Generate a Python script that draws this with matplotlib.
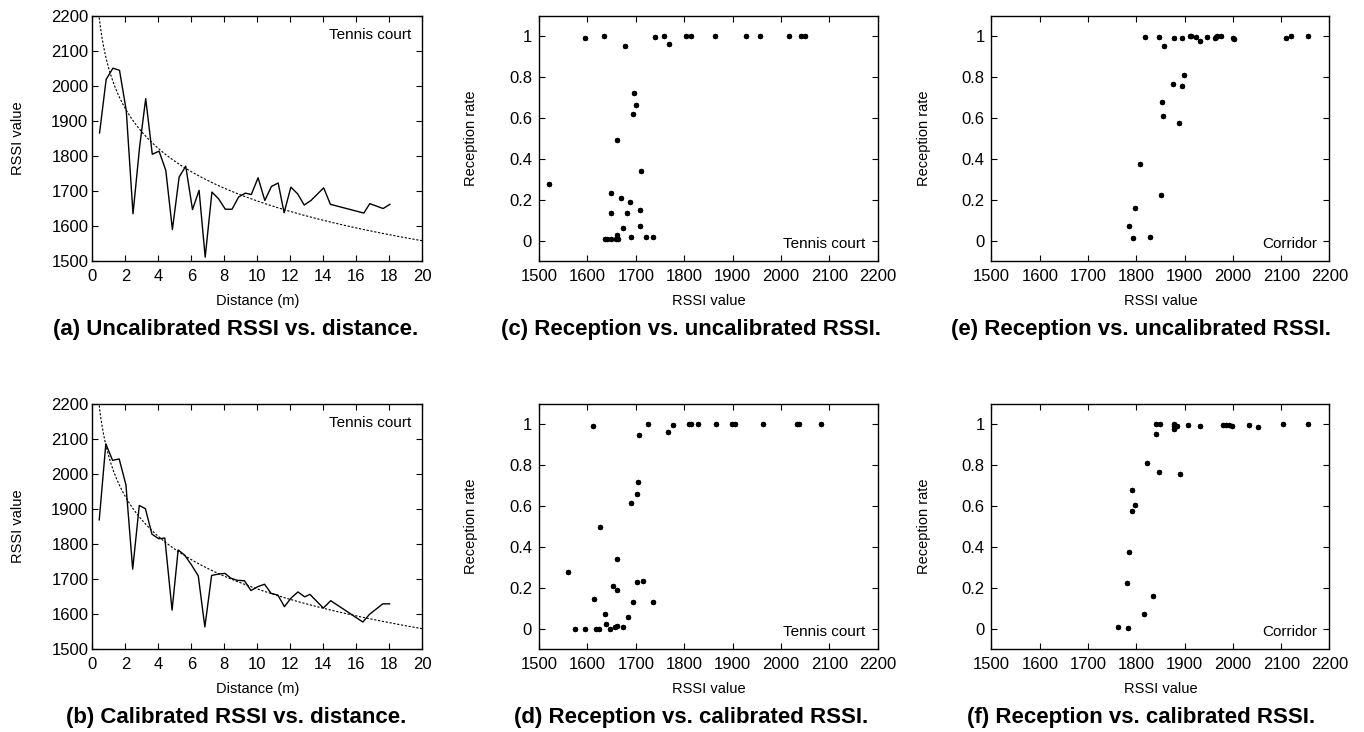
import numpy as np
import matplotlib
matplotlib.use("Agg")
import matplotlib.pyplot as plt

plt.rcParams['font.family'] = ['Liberation Sans', 'DejaVu Sans']

# (a) uncalibrated RSSI vs distance, tennis court
dist_uncal = [0.43, 0.83, 1.24, 1.64, 2.05, 2.46, 2.86, 3.23, 3.63, 4.04, 4.45, 4.85, 5.26,
              5.66, 6.07, 6.47, 6.84, 7.25, 7.65, 8.06, 8.47, 8.87, 9.28, 9.64, 10.05, 10.46,
              10.86, 11.27, 11.63, 12.04, 12.45, 12.85, 13.26, 14.03, 14.44, 16.47, 16.83,
              17.64, 18.05]
rssi_uncal = [1866, 2019, 2051, 2045, 1930, 1635, 1826, 1964, 1805, 1814, 1759, 1590, 1740,
              1771, 1647, 1702, 1511, 1697, 1678, 1648, 1648, 1683, 1694, 1690, 1738, 1673,
              1713, 1723, 1638, 1711, 1692, 1660, 1673, 1709, 1662, 1637, 1664, 1650, 1662]

# (b) calibrated RSSI vs distance, tennis court
dist_cal = [0.41, 0.81, 1.22, 1.62, 2.03, 2.44, 2.84, 3.21, 3.61, 4.02, 4.39, 4.83, 5.20,
            5.60, 6.01, 6.42, 6.82, 7.23, 7.63, 8.04, 8.41, 8.81, 9.22, 9.62, 10.03, 10.44,
            10.84, 11.25, 11.65, 12.06, 12.47, 12.88, 13.20, 14.01, 14.46, 16.41, 16.81,
            17.62, 18.03]
rssi_cal = [1869, 2086, 2039, 2043, 1969, 1728, 1910, 1901, 1828, 1815, 1817, 1611, 1783,
            1768, 1740, 1709, 1563, 1710, 1714, 1716, 1702, 1696, 1695, 1667, 1678, 1685,
            1659, 1654, 1621, 1646, 1663, 1649, 1656, 1617, 1638, 1577, 1599, 1629, 1629]

# log-distance fit (dashed): rssi = FIT_A - FIT_B * ln(d)
FIT_A = 2048.5
FIT_B = 163.7

# (c) reception vs uncalibrated RSSI, tennis court
c_rssi = [1594, 1634, 1677, 1739, 1758, 1769, 1803, 1814, 1864, 1927, 1956, 2017, 2042, 2050,
          1697, 1700, 1694, 1661, 1711, 1521, 1648, 1648, 1670, 1689, 1682, 1708, 1674, 1709,
          1661, 1637, 1641, 1648, 1660, 1663, 1690, 1721, 1736]
c_rate = [0.994, 1.0, 0.953, 0.995, 1.0, 0.963, 1.0, 1.0, 1.0, 1.0, 1.0, 1.0, 1.0, 1.0,
          0.723, 0.663, 0.618, 0.495, 0.34, 0.277, 0.232, 0.135, 0.21, 0.19, 0.137, 0.152,
          0.063, 0.074, 0.029, 0.01, 0.01, 0.01, 0.008, 0.008, 0.02, 0.02, 0.02]

# (d) reception vs calibrated RSSI, tennis court
d_rssi = [1612, 1707, 1725, 1766, 1777, 1810, 1815, 1828, 1865, 1899, 1906, 1963, 2034, 2038,
          2084, 1704, 1702, 1691, 1627, 1662, 1559, 1703, 1714, 1652, 1662, 1614, 1695, 1735,
          1636, 1684, 1638, 1574, 1595, 1617, 1624, 1646, 1657, 1661, 1674]
d_rate = [0.993, 0.95, 1.0, 0.963, 0.995, 1.0, 1.0, 1.0, 1.0, 1.0, 1.0, 1.0, 1.0, 1.0, 1.0,
          0.72, 0.66, 0.615, 0.497, 0.339, 0.276, 0.23, 0.232, 0.207, 0.187, 0.145, 0.132,
          0.129, 0.069, 0.056, 0.023, 0.0, 0.0, 0.0, 0.0, 0.0, 0.01, 0.012, 0.01]

# (e) reception vs uncalibrated RSSI, corridor
e_rssi = [1817, 1846, 1858, 1877, 1895, 1912, 1914, 1924, 1931, 1947, 1963, 1965, 1968, 1976,
          2000, 2002, 2109, 2121, 2156, 1899, 1876, 1894, 1854, 1855, 1888, 1808, 1851, 1797,
          1784, 1794, 1828]
e_rate = [0.997, 0.995, 0.955, 0.99, 0.992, 1.0, 1.0, 0.998, 0.98, 0.997, 0.99, 0.995, 1.0,
          1.0, 0.99, 0.987, 0.99, 1.0, 1.0, 0.81, 0.766, 0.758, 0.68, 0.61, 0.577, 0.373,
          0.223, 0.16, 0.074, 0.015, 0.018]

# (f) reception vs calibrated RSSI, corridor
f_rssi = [1841, 1850, 1841, 1878, 1878, 1885, 1878, 1908, 1932, 1979, 1986, 1992, 1999, 2034,
          2051, 2103, 2156, 1823, 1847, 1890, 1790, 1797, 1792, 1785, 1781, 1834, 1815, 1762,
          1783]
f_rate = [1.0, 1.0, 0.953, 1.0, 0.99, 0.99, 0.977, 0.997, 0.992, 0.997, 0.997, 0.995, 0.99,
          0.997, 0.987, 1.0, 1.0, 0.81, 0.766, 0.758, 0.678, 0.607, 0.577, 0.377, 0.223, 0.16,
          0.071, 0.007, 0.003]

captions = ['(a) Uncalibrated RSSI vs. distance.', '(b) Calibrated RSSI vs. distance.',
            '(c) Reception vs. uncalibrated RSSI.', '(d) Reception vs. calibrated RSSI.',
            '(e) Reception vs. uncalibrated RSSI.', '(f) Reception vs. calibrated RSSI.']

TICK_FS = 12
LABEL_FS = 10.5
NOTE_FS = 11
CAPTION_FS = 16
ASTERISK = (8, 2, 0)


def style_axes(ax, ypad):
    ax.tick_params(direction='in', top=True, right=True, length=4, width=0.8,
                   labelsize=TICK_FS)
    ax.tick_params(axis='x', pad=6)
    ax.tick_params(axis='y', pad=ypad)
    for s in ax.spines.values():
        s.set_linewidth(1.0)


def distance_panel(ax, dist, rssi):
    d = np.linspace(0.38, 20, 400)
    ax.plot(d, FIT_A - FIT_B * np.log(d), color='black', lw=0.8, dashes=(2, 1.5))
    ax.plot(dist, rssi, color='black', lw=1.0)
    ax.set_xlim(0, 20)
    ax.set_ylim(1500, 2200)
    ax.set_xticks(range(0, 21, 2))
    ax.set_yticks(range(1500, 2201, 100))
    style_axes(ax, 3)
    ax.set_xlabel('Distance (m)', fontsize=LABEL_FS)
    ax.set_ylabel('RSSI value', fontsize=LABEL_FS)
    ax.xaxis.set_label_coords(0.5, -0.135)
    ax.yaxis.set_label_coords(-0.205, 0.5)
    ax.text(0.967, 0.95, 'Tennis court', transform=ax.transAxes, ha='right', va='top',
            fontsize=NOTE_FS)


def reception_panel(ax, rssi, rate, place):
    ax.plot(rssi, rate, linestyle='none', marker=ASTERISK, markersize=3.8,
            markeredgewidth=0.9, color='black')
    ax.set_xlim(1500, 2200)
    ax.set_ylim(-0.1, 1.1)
    ax.set_xticks(range(1500, 2201, 100))
    ax.set_yticks([0, 0.2, 0.4, 0.6, 0.8, 1])
    ax.set_yticklabels(['0', '0.2', '0.4', '0.6', '0.8', '1'])
    style_axes(ax, 5)
    ax.set_xlabel('RSSI value', fontsize=LABEL_FS)
    ax.set_ylabel('Reception rate', fontsize=LABEL_FS)
    ax.xaxis.set_label_coords(0.5, -0.135)
    ax.yaxis.set_label_coords(-0.18, 0.5)
    ax.text(0.965, 0.055, place, transform=ax.transAxes, ha='right', va='baseline',
            fontsize=NOTE_FS)


fig = plt.figure(figsize=(13.64, 7.32), dpi=100)

H = 0.3347
top_y, bot_y = 0.6434, 0.1134
cols = [(0.0678, 0.2416), (0.3952, 0.2482), (0.7269, 0.2478)]

ax_a = fig.add_axes([cols[0][0], top_y, cols[0][1], H])
ax_b = fig.add_axes([cols[0][0], bot_y, cols[0][1], H])
ax_c = fig.add_axes([cols[1][0], top_y, cols[1][1], H])
ax_d = fig.add_axes([cols[1][0], bot_y, cols[1][1], H])
ax_e = fig.add_axes([cols[2][0], top_y, cols[2][1], H])
ax_f = fig.add_axes([cols[2][0], bot_y, cols[2][1], H])

distance_panel(ax_a, dist_uncal, rssi_uncal)
distance_panel(ax_b, dist_cal, rssi_cal)
reception_panel(ax_c, c_rssi, c_rate, 'Tennis court')
reception_panel(ax_d, d_rssi, d_rate, 'Tennis court')
reception_panel(ax_e, e_rssi, e_rate, 'Corridor')
reception_panel(ax_f, f_rssi, f_rate, 'Corridor')

# sub-captions under each panel
cap_x = [236 / 1364, 236 / 1364, 691 / 1364, 691 / 1364, 1141 / 1364, 1141 / 1364]
cap_y = [1 - 329 / 732, 1 - 718 / 732] * 3
for i, cap in enumerate(captions):
    fig.text(cap_x[i], cap_y[i % 2], cap, ha='center', va='center',
             fontsize=CAPTION_FS, fontweight='bold')

fig.savefig('out.png', dpi=100)
